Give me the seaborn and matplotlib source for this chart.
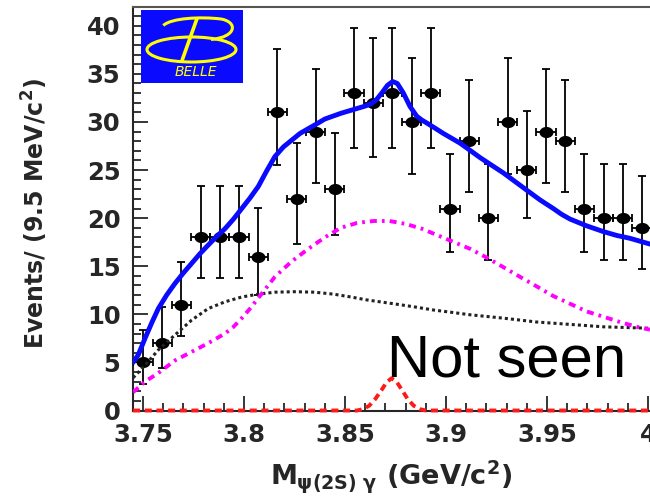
import numpy as np
import pandas as pd
import matplotlib
matplotlib.use("Agg")
import matplotlib.pyplot as plt
import matplotlib.transforms as mtransforms
import seaborn as sns
from matplotlib.patches import Ellipse, Rectangle, PathPatch
from matplotlib.path import Path
from matplotlib.ticker import MultipleLocator, FormatStrFormatter

# ---- binned data: bin centres (GeV/c^2), counts and asymmetric Poisson errors ----
mass = [3.7500, 3.7595, 3.7690, 3.7785, 3.7880, 3.7975, 3.8070, 3.8165, 3.8260,
        3.8355, 3.8450, 3.8545, 3.8640, 3.8735, 3.8830, 3.8925, 3.9020, 3.9115,
        3.9210, 3.9305, 3.9400, 3.9495, 3.9590, 3.9685, 3.9780, 3.9875, 3.9970]
events = [5, 7, 11, 18, 18, 18, 16, 31, 22, 29, 23, 33, 32, 33, 30, 33, 21, 28,
          20, 30, 25, 29, 28, 21, 20, 20, 19]
err_low = [2.2, 2.6, 3.3, 4.2, 4.2, 4.2, 4.0, 5.5, 4.7, 5.4, 4.8, 5.7, 5.6, 5.7,
           5.4, 5.7, 4.5, 5.3, 4.4, 5.4, 5.0, 5.4, 5.3, 4.5, 4.4, 4.4, 4.3]
err_high = [3.4, 3.8, 4.4, 5.3, 5.3, 5.3, 5.1, 6.6, 5.8, 6.5, 5.9, 6.8, 6.7, 6.8,
            6.6, 6.8, 5.7, 6.4, 5.6, 6.6, 6.1, 6.5, 6.4, 5.7, 5.6, 5.6, 5.4]
bin_half_width = 0.00475

# ---- fit components sampled along the mass axis ----
total_x = [3.7451, 3.7477, 3.7510, 3.7545, 3.7576, 3.7617, 3.7658, 3.7700, 3.7741,
           3.7782, 3.7823, 3.7865, 3.7906, 3.7948, 3.7989, 3.8030, 3.8071, 3.8112,
           3.8153, 3.8195, 3.8236, 3.8277, 3.8318, 3.8360, 3.8400, 3.8440, 3.8480,
           3.8520, 3.8560, 3.8600, 3.8630, 3.8655, 3.8682, 3.8710, 3.8736, 3.8759,
           3.8789, 3.8822, 3.8855, 3.8880, 3.8904, 3.8946, 3.8987, 3.9028, 3.9069,
           3.9119, 3.9168, 3.9226, 3.9284, 3.9342, 3.9400, 3.9465, 3.9531, 3.9572,
           3.9614, 3.9696, 3.9779, 3.9845, 3.9911, 4.0010]
total_y = [5.0, 5.8, 7.5, 9.2, 10.6, 12.0, 13.2, 14.3, 15.3,
           16.3, 17.2, 18.1, 18.9, 19.9, 21.0, 22.1, 23.3, 24.9,
           26.4, 27.4, 28.1, 28.8, 29.3, 29.8, 30.3, 30.6, 30.9,
           31.15, 31.4, 31.65, 31.9, 32.3, 33.0, 33.8, 34.2, 34.0,
           33.0, 31.6, 30.6, 30.2, 29.9, 29.35, 28.8, 28.3, 27.8,
           27.05, 26.3, 25.5, 24.7, 23.8, 22.9, 21.9, 21.0, 20.4,
           19.9, 19.2, 18.6, 18.2, 17.9, 17.3]

broad_x = [3.7451, 3.7510, 3.7576, 3.7658, 3.7741, 3.7823, 3.7906, 3.7948, 3.7989,
           3.8030, 3.8071, 3.8112, 3.8153, 3.8236, 3.8318, 3.8400, 3.8480, 3.8560,
           3.8640, 3.8720, 3.8800, 3.8880, 3.8960, 3.9040, 3.9120, 3.9201, 3.9284,
           3.9366, 3.9449, 3.9531, 3.9614, 3.9696, 3.9779, 3.9861, 3.9944, 4.0010]
broad_y = [1.9, 3.0, 3.9, 5.2, 6.1, 7.0, 8.0, 8.7, 9.6,
           10.6, 11.7, 12.8, 13.9, 15.5, 16.8, 18.0, 19.0, 19.5,
           19.7, 19.7, 19.4, 18.9, 18.2, 17.5, 16.8, 15.9, 14.9,
           13.9, 12.9, 11.9, 11.1, 10.3, 9.75, 9.2, 8.7, 8.4]

bkg_x = [3.7451, 3.7510, 3.7576, 3.7658, 3.7741, 3.7823, 3.7906, 3.7989, 3.8071,
         3.8153, 3.8250, 3.8350, 3.8442, 3.8530, 3.8607, 3.8690, 3.8772, 3.8850,
         3.8937, 3.9030, 3.9120, 3.9284, 3.9449, 3.9614, 3.9779, 4.0010]
bkg_y = [3.4, 4.7, 6.3, 7.85, 9.4, 10.6, 11.3, 11.8, 12.1,
         12.3, 12.35, 12.3, 12.1, 11.8, 11.5, 11.25, 11.0, 10.75,
         10.45, 10.2, 9.95, 9.6, 9.2, 8.95, 8.7, 8.55]

x3872_x = [3.7451, 3.8560, 3.8590, 3.8620, 3.8650, 3.8680, 3.8705, 3.8730, 3.8755,
           3.8780, 3.8810, 3.8840, 3.8870, 3.8900, 4.0010]
x3872_y = [0.0, 0.0, 0.15, 0.5, 1.2, 2.1, 2.9, 3.35, 3.0,
           2.2, 1.2, 0.5, 0.15, 0.0, 0.0]

data = pd.DataFrame({"mass": mass, "events": events})

sns.set_style("ticks")
plt.rcParams["font.family"] = ["DejaVu Sans"]
plt.rcParams["font.weight"] = "bold"
plt.rcParams["mathtext.fontset"] = "custom"
plt.rcParams["mathtext.rm"] = "DejaVu Sans:bold"
plt.rcParams["mathtext.it"] = "DejaVu Sans:bold"
plt.rcParams["mathtext.bf"] = "DejaVu Sans:bold"
plt.rcParams["mathtext.sf"] = "DejaVu Sans:bold"

W, H = 650, 498
fig = plt.figure(figsize=(W / 100, H / 100), dpi=100)
fig.patch.set_facecolor("white")

ax_left, ax_right, ax_top, ax_bottom = 133, 650, 6.7, 410.5
ax = fig.add_axes([ax_left / W, 1 - ax_bottom / H,
                   (ax_right - ax_left) / W, (ax_bottom - ax_top) / H])
ax.set_facecolor("white")

# data points with errors
ax.errorbar(mass, events, yerr=[err_low, err_high], xerr=bin_half_width,
            fmt="none", ecolor="black", elinewidth=1.3, capsize=2.8,
            capthick=1.3, zorder=3)
theta = np.linspace(0, 2 * np.pi, 40)
ellipse_marker = np.column_stack([1.25 * np.cos(theta), np.sin(theta)])
sns.scatterplot(data=data, x="mass", y="events", ax=ax, marker=ellipse_marker,
                s=100, color="black", edgecolor="black", linewidth=0, zorder=4,
                legend=False)

# fit components
line_kw = dict(estimator=None, sort=False, solid_joinstyle="round",
               solid_capstyle="round")
sns.lineplot(x=bkg_x, y=bkg_y, ax=ax, color="#222222", lw=2.2,
             linestyle=(0, (1.0, 1.0)), zorder=5, **line_kw)
sns.lineplot(x=broad_x, y=broad_y, ax=ax, color="#ff00ff", lw=2.8,
             linestyle=(0, (1.8, 1.3, 0.7, 1.3)), zorder=5, **line_kw)
sns.lineplot(x=x3872_x, y=x3872_y, ax=ax, color="#ff1a1a", lw=2.8,
             linestyle=(0, (1.8, 1.2)), zorder=6, clip_on=False, **line_kw)
sns.lineplot(x=total_x, y=total_y, ax=ax, color="#0a0aff", lw=3.5,
             zorder=7, **line_kw)

# axes
ax.set_xlim(3.74505, 4.00099)
ax.set_ylim(0, 41.98)
ax.xaxis.set_major_locator(MultipleLocator(0.05))
ax.xaxis.set_minor_locator(MultipleLocator(0.01))
ax.yaxis.set_major_locator(MultipleLocator(5))
ax.yaxis.set_minor_locator(MultipleLocator(1))
ax.xaxis.set_major_formatter(FormatStrFormatter("%g"))
ax.tick_params(which="both", direction="in", top=False, right=False,
               width=1.1, color="black")
ax.tick_params(which="major", length=11, labelsize=17.5)
ax.tick_params(axis="x", which="major", pad=9)
ax.tick_params(axis="y", which="major", pad=9)
ax.tick_params(which="minor", length=5.5)
for lab in ax.get_xticklabels() + ax.get_yticklabels():
    lab.set_fontweight("bold")

# nudge the last x label inwards so it sits at the frame edge
fig.canvas.draw()
last_label = ax.get_xticklabels()[-1]
if last_label.get_text() == "4":
    last_label.set_transform(last_label.get_transform() +
                             mtransforms.ScaledTranslation(-5 / 100, 0,
                                                           fig.dpi_scale_trans))

ax.spines["right"].set_visible(False)
ax.spines["left"].set_linewidth(1.5)
ax.spines["bottom"].set_linewidth(1.5)
ax.spines["top"].set_linewidth(1.5)
ax.spines["top"].set_color("#555555")

ax.set_xlabel(r"$M_{\psi(2S)\ \gamma}$ (GeV/c$^{2}$)", fontsize=19.5,
              fontweight="bold")
ax.xaxis.set_label_coords(0.5, (ax_bottom - 458) / (ax_bottom - ax_top))
ax.set_ylabel(r"Events/ (9.5 MeV/c$^{2}$)", fontsize=17, fontweight="bold")
ax.yaxis.set_label_coords((50 - ax_left) / (ax_right - ax_left), 0.489)

ax.text(3.8706, 3.5, "Not seen", fontsize=43, family="Liberation Sans",
        fontweight="normal", ha="left", va="baseline", color="black", zorder=8)

# experiment logo
lg = fig.add_axes([141 / W, 1 - 83.3 / H, 102 / W, 73.3 / H])
lg.set_xlim(0, 102)
lg.set_ylim(73.3, 0)
lg.axis("off")
lg.add_patch(Rectangle((0, 0), 102, 73.3, color="#0a0aff", zorder=0))
yellow = "#ffff00"
lg.add_patch(Ellipse((50.5, 39.5), 89, 25, fill=False, ec=yellow, lw=2.2,
                     zorder=2))
upper = Path([(22.3, 15.5), (30, 8), (60, 6.5), (80, 9),
              (97, 12), (96, 27), (70, 29.5)],
             [Path.MOVETO, Path.CURVE4, Path.CURVE4, Path.CURVE4,
              Path.CURVE4, Path.CURVE4, Path.CURVE4])
lg.add_patch(PathPatch(upper, fill=False, ec=yellow, lw=2.2, zorder=2))
stroke = Path([(56, 8.5), (40.5, 52)], [Path.MOVETO, Path.LINETO])
lg.add_patch(PathPatch(stroke, fill=False, ec=yellow, lw=2.6, zorder=2))
lg.text(55, 62, "BELLE", color=yellow, fontsize=10, style="italic",
        fontweight="normal", ha="center", va="center", zorder=3)

fig.savefig("out.png", dpi=100)
